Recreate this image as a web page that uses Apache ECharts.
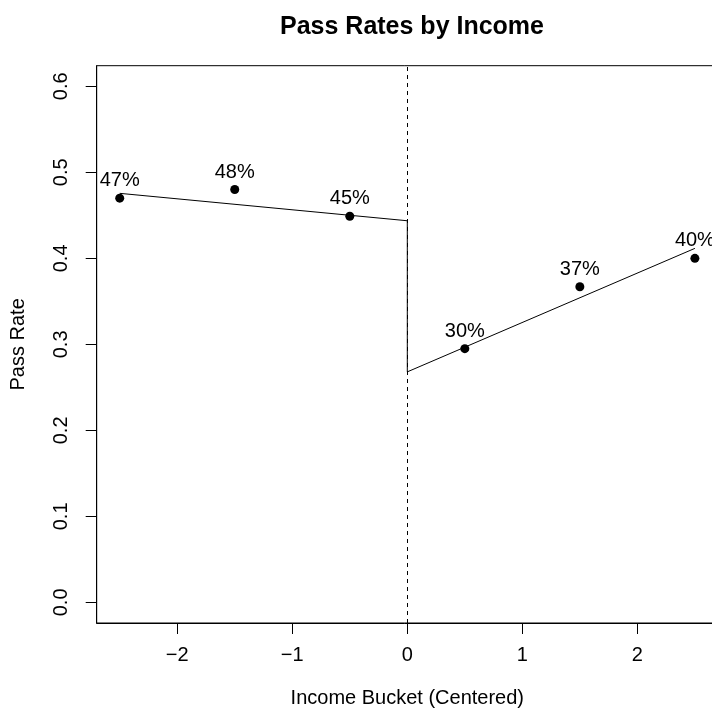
<!DOCTYPE html>
<html>
<head>
<meta charset="utf-8">
<script src="https://cdn.jsdelivr.net/npm/echarts@6/dist/echarts.min.js"></script>
<style>
  html, body { margin: 0; padding: 0; background: #fff; }
  #chart { width: 712px; height: 715px; }
</style>
</head>
<body>
<div id="chart"></div>
<script>
// Income buckets (centered) and observed pass rates
const buckets = [-2.5, -1.5, -0.5, 0.5, 1.5, 2.5];
const passRates = [0.470, 0.480, 0.449, 0.295, 0.367, 0.400];

// Fitted regression lines on each side of the cutoff
const fitLeftX = [-2.5, 0];
const fitLeftY = [0.4756, 0.4437];
const fitRightX = [0, 2.5];
const fitRightY = [0.268, 0.4116];

// Axis ticks
const xTicks = [-2, -1, 0, 1, 2];
const yTicks = [0, 0.1, 0.2, 0.3, 0.4, 0.5, 0.6];
const cutoff = 0;

const FONT = "'Liberation Sans', Arial, Helvetica, sans-serif";

const pointData = buckets.map((x, i) => [x, passRates[i]]);
const fitData = fitLeftX.map((x, i) => [x, fitLeftY[i]])
  .concat(fitRightX.map((x, i) => [x, fitRightY[i]]));

const chart = echarts.init(document.getElementById('chart'), null, { renderer: 'canvas' });

chart.setOption({
  animation: false,
  backgroundColor: '#ffffff',
  title: {
    text: 'Pass Rates by Income',
    left: 407,
    top: 10,
    textAlign: 'center',
    textStyle: { fontFamily: FONT, fontSize: 25, fontWeight: 'bold', color: '#000' }
  },
  grid: {
    left: 96.7,
    top: 65.7,
    width: 621.2,
    height: 557.3,
    outerBoundsMode: 'none',
    containLabel: false,
    show: true,
    borderColor: '#000',
    borderWidth: 1,
    backgroundColor: 'transparent'
  },
  xAxis: {
    type: 'value',
    min: -2.7,
    max: 2.7,
    name: 'Income Bucket (Centered)',
    nameLocation: 'middle',
    nameGap: 65,
    nameTextStyle: { fontFamily: FONT, fontSize: 20, color: '#000' },
    axisLine: { show: true, onZero: false, lineStyle: { color: '#000', width: 1 } },
    axisTick: { show: true, inside: false, length: 11, customValues: xTicks, lineStyle: { color: '#000' } },
    axisLabel: {
      show: true,
      customValues: xTicks,
      margin: 22,
      fontFamily: FONT,
      fontSize: 20,
      color: '#000',
      formatter: v => (v < 0 ? '\u2212' + Math.abs(v) : String(v))
    },
    splitLine: { show: false }
  },
  yAxis: {
    type: 'value',
    min: -0.024,
    max: 0.624,
    name: 'Pass Rate',
    nameLocation: 'middle',
    nameRotate: 90,
    nameGap: 68,
    nameTextStyle: { fontFamily: FONT, fontSize: 20, color: '#000' },
    axisLine: { show: true, onZero: false, lineStyle: { color: '#000', width: 1 } },
    axisTick: { show: true, inside: false, length: 11, customValues: yTicks, lineStyle: { color: '#000' } },
    axisLabel: {
      show: true,
      customValues: yTicks,
      rotate: 90,
      margin: 25,
      fontFamily: FONT,
      fontSize: 20,
      color: '#000',
      formatter: v => v.toFixed(1)
    },
    splitLine: { show: false }
  },
  series: [
    {
      name: 'fit',
      type: 'line',
      data: fitData,
      symbol: 'none',
      lineStyle: { color: '#000', width: 1 },
      silent: true,
      markLine: {
        silent: true,
        symbol: 'none',
        label: { show: false },
        lineStyle: { color: '#000', width: 1, type: [4, 4] },
        data: [{ xAxis: cutoff }]
      }
    },
    {
      name: 'pass rate',
      type: 'scatter',
      data: pointData,
      symbol: 'circle',
      symbolSize: 9,
      itemStyle: { color: '#000', opacity: 1 },
      label: {
        show: true,
        position: 'top',
        distance: 3,
        fontFamily: FONT,
        fontSize: 20,
        color: '#000',
        opacity: 1
      },
      labelLayout: { hideOverlap: false }
    }
  ]
});
// Percent labels stated from each point's value
chart.setOption({
  series: [{}, {
    label: { formatter: p => Math.round(p.value[1] * 100) + '%' }
  }]
});
</script>
</body>
</html>
